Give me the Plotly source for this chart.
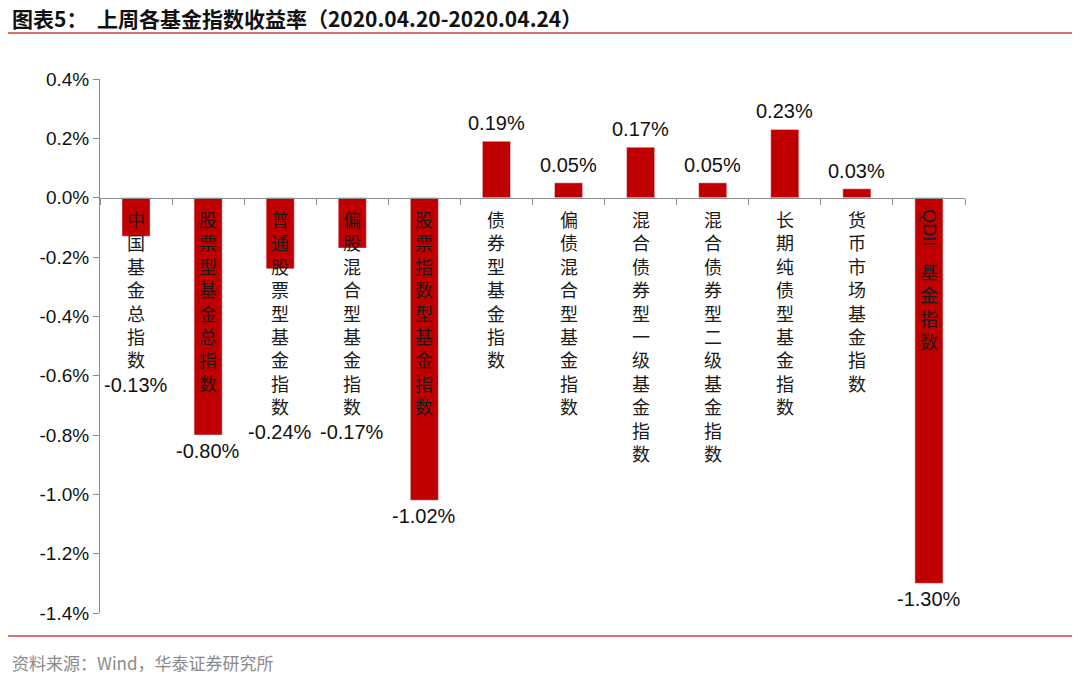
import plotly.graph_objects as go

categories = ["中国基金总指数", "股票型基金总指数", "普通股票型基金指数", "偏股混合型基金指数",
              "股票指数型基金指数", "债券型基金指数", "偏债混合型基金指数", "混合债券型一级基金指数",
              "混合债券型二级基金指数", "长期纯债型基金指数", "货币市场基金指数", "QDII基金指数"]
returns = [-0.13, -0.80, -0.24, -0.17, -1.02, 0.19, 0.05, 0.17, 0.05, 0.23, 0.03, -1.30]
y_ticks = [0.4, 0.2, 0.0, -0.2, -0.4, -0.6, -0.8, -1.0, -1.2, -1.4]

RED = "#C00000"
FONT = "Liberation Sans, Arial, sans-serif"
CJK = "Noto Sans CJK SC"

# page body has an 8px margin, so margins are shifted by 8px
y_min, y_max = -0.014, 0.004
plot_h = 675 - 71 - 70
plot_w = 1080 - 92 - 123
px_per_unit = plot_h / (y_max - y_min)
cat_size = 18
char_px = cat_size * 1.3

vals = [v / 100 for v in returns]

fig = go.Figure()
fig.add_trace(go.Bar(x=categories, y=vals, marker_color=RED,
                     width=0.39, showlegend=False, hoverinfo="skip"))

annotations = []
for name, v in zip(categories, vals):
    if name.startswith("QDII"):
        annotations.append(dict(x=name, y=0, text="QDII", textangle=90, showarrow=False,
                                yanchor="top", xanchor="center", yshift=-10,
                                font=dict(family=FONT, size=18, color="#1a1a1a")))
        rest = name[4:]
        annotations.append(dict(x=name, y=0, text="<br>".join(rest), showarrow=False,
                                yanchor="top", xanchor="center", yshift=-58,
                                font=dict(family=CJK, size=cat_size, color="#1a1a1a")))
        n_px = 58 + len(rest) * char_px
    else:
        annotations.append(dict(x=name, y=0, text="<br>".join(name), showarrow=False,
                                yanchor="top", xanchor="center", yshift=-6,
                                font=dict(family=CJK, size=cat_size, color="#1a1a1a")))
        n_px = 8 + len(name) * char_px
    label = f"{v * 100:.2f}%"
    if v >= 0:
        annotations.append(dict(x=name, y=v, text=label, showarrow=False, yanchor="bottom",
                                yshift=5, font=dict(family=FONT, size=20, color="#111")))
    else:
        text_end = -n_px / px_per_unit
        y_lab = min(v, text_end)
        annotations.append(dict(x=name, y=y_lab, text=label, showarrow=False, yanchor="top",
                                yshift=-3, font=dict(family=FONT, size=20, color="#111")))

annotations += [
    dict(x=-90 / plot_w, y=1 + 61 / plot_h, xref="paper", yref="paper", xanchor="left",
         yanchor="middle",
         text="<b>图表5：  上周各基金指数收益率（2020.04.20-2020.04.24）</b>", showarrow=False,
         font=dict(family=CJK, size=21, color="#111")),
    dict(x=-90 / plot_w, y=-49 / plot_h, xref="paper", yref="paper", xanchor="left",
         yanchor="middle", text="资料来源：Wind，华泰证券研究所", showarrow=False,
         font=dict(family=CJK, size=17, color="#8a8a8a")),
]

fig.update_layout(
    width=1080, height=675,
    margin=dict(l=92, r=123, t=71, b=70),
    plot_bgcolor="white", paper_bgcolor="white",
    annotations=annotations,
    shapes=[
        dict(type="line", xref="paper", yref="paper", x0=-100 / plot_w, x1=1 + 120 / plot_w,
             y0=1 + 46 / plot_h, y1=1 + 46 / plot_h, line=dict(color="#D04040", width=1.5)),
        dict(type="line", xref="paper", yref="paper", x0=-100 / plot_w, x1=1 + 120 / plot_w,
             y0=-23 / plot_h, y1=-23 / plot_h, line=dict(color="#D04040", width=1.5)),
    ],
)

zero_pos = (0 - y_min) / (y_max - y_min)
fig.update_xaxes(type="category", anchor="free", position=zero_pos,
                 showline=True, linecolor="#8c8c8c", linewidth=1, ticks="outside",
                 tickson="boundaries", ticklen=6, tickcolor="#8c8c8c",
                 showticklabels=False, showgrid=False, zeroline=False)
fig.update_yaxes(range=[y_min, y_max], tickvals=[t / 100 for t in y_ticks],
                 ticktext=[f"{t:.1f}%" for t in y_ticks], showline=True,
                 linecolor="#8c8c8c", linewidth=1, ticks="outside", ticklen=6,
                 tickcolor="#8c8c8c", showgrid=False, zeroline=False,
                 tickfont=dict(family=FONT, size=19, color="#111"))

fig.write_html("out.html")
